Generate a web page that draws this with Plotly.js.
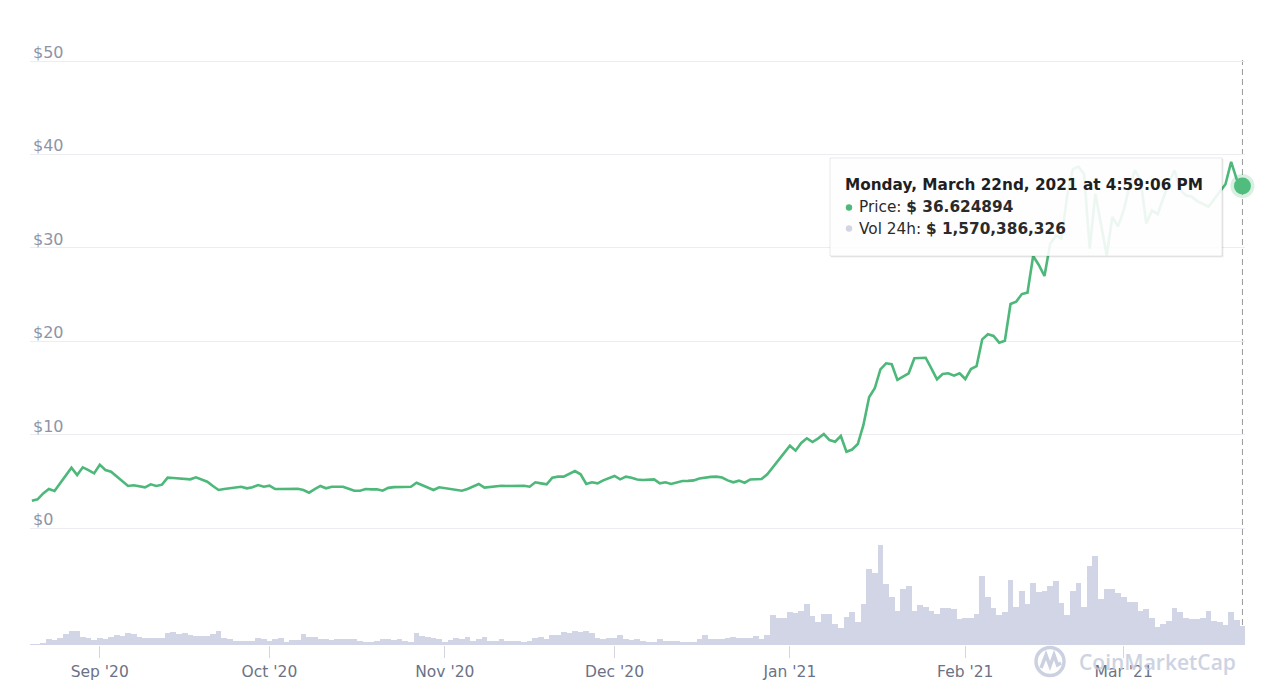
<!DOCTYPE html>
<html>
<head>
<meta charset="utf-8">
<script src="https://cdn.plot.ly/plotly-3.0.1.min.js"></script>
<style>html,body{margin:0;padding:0;background:#fff}#chart{width:1280px;height:694px}</style>
</head>
<body>
<div id="chart"></div>
<script>
// ---- data ----
const startDate = '2020-08-20';
const price = [
  2.92, 3.07, 3.71, 4.17, 3.96, 4.8, 5.6, 6.46, 5.67, 6.5,
  6.2, 5.85, 6.78, 6.21, 6.03, 5.5, 5.0, 4.5, 4.57, 4.5,
  4.36, 4.68, 4.5, 4.64, 5.39, 5.35, 5.3, 5.28, 5.21, 5.43,
  5.2, 4.96, 4.5, 4.07, 4.17, 4.25, 4.33, 4.42, 4.25, 4.36,
  4.6, 4.42, 4.53, 4.17, 4.17, 4.17, 4.25, 4.2, 4.07, 3.78,
  4.15, 4.5, 4.25, 4.42, 4.42, 4.42, 4.2, 3.99, 3.99, 4.17,
  4.14, 4.14, 3.99, 4.3, 4.38, 4.42, 4.42, 4.42, 4.85, 4.6,
  4.3, 4.07, 4.36, 4.27, 4.17, 4.08, 3.99, 4.17, 4.45, 4.71,
  4.32, 4.4, 4.47, 4.53, 4.5, 4.5, 4.52, 4.53, 4.42, 4.89,
  4.78, 4.68, 5.39, 5.5, 5.5, 5.8, 6.1, 5.75, 4.71, 4.89,
  4.78, 5.1, 5.35, 5.57, 5.21, 5.5, 5.39, 5.2, 5.14, 5.14,
  5.2, 4.78, 4.89, 4.71, 4.85, 5.03, 5.05, 5.1, 5.3, 5.42,
  5.47, 5.5, 5.4, 5.1, 4.89, 5.07, 4.85, 5.2, 5.25, 5.25,
  5.75, 6.5, 7.3, 8.05, 8.81, 8.28, 9.1, 9.6, 9.21, 9.6,
  10.06, 9.42, 9.24, 9.85, 8.17, 8.4, 8.99, 11.03, 14.0, 14.96,
  16.99, 17.63, 17.53, 15.85, 16.2, 16.56, 18.17, 18.2, 18.23, 17.1,
  15.92, 16.49, 16.56, 16.31, 16.56, 15.95, 17.02, 17.34, 20.2, 20.74,
  20.56, 19.84, 20.05, 23.98, 24.23, 25.05, 25.2, 29.12, 28.16, 26.98,
  30.4, 31.3, 31.0, 35.5, 38.4, 38.7, 37.9, 29.9, 35.8, 32.5,
  29.2, 33.3, 32.3, 34.0, 36.5, 38.3, 37.2, 32.6, 34.0, 33.6,
  35.2, 37.0, 38.3, 36.2, 35.6, 35.5, 35.0, 34.7, 34.4, 35.2,
  36.0, 36.8, 39.2, 37.3, 36.624894
];
// 24h volume, billions of USD
const volumeBn = [
  0.08, 0.10, 0.19, 0.47, 0.41, 0.55, 0.91, 1.19, 1.19, 0.64,
  0.55, 0.41, 0.61, 0.50, 0.64, 0.83, 0.77, 0.97, 0.89, 0.69,
  0.55, 0.60, 0.62, 0.61, 1.02, 1.08, 0.91, 0.97, 0.83, 0.77,
  0.77, 0.78, 0.91, 1.19, 0.61, 0.50, 0.36, 0.36, 0.36, 0.36,
  0.61, 0.47, 0.36, 0.50, 0.61, 0.28, 0.41, 0.41, 0.89, 0.64,
  0.64, 0.50, 0.50, 0.41, 0.50, 0.50, 0.50, 0.50, 0.36, 0.22,
  0.22, 0.36, 0.50, 0.50, 0.41, 0.50, 0.33, 0.28, 1.02, 0.77,
  0.64, 0.62, 0.47, 0.28, 0.41, 0.61, 0.50, 0.69, 0.36, 0.47,
  0.69, 0.36, 0.36, 0.47, 0.36, 0.36, 0.36, 0.22, 0.36, 0.61,
  0.69, 0.47, 0.83, 0.83, 1.05, 0.97, 1.19, 1.10, 1.16, 0.97,
  0.61, 0.50, 0.61, 0.61, 0.83, 0.50, 0.41, 0.50, 0.36, 0.22,
  0.22, 0.47, 0.36, 0.36, 0.36, 0.22, 0.22, 0.22, 0.47, 0.83,
  0.50, 0.50, 0.50, 0.61, 0.69, 0.61, 0.61, 0.61, 0.75, 0.50,
  0.83, 2.49, 2.21, 2.21, 2.71, 2.63, 2.82, 3.40, 2.41, 1.94,
  2.57, 2.57, 1.74, 1.44, 2.35, 2.71, 1.94, 3.40, 6.30, 6.00,
  8.30, 5.06, 3.96, 2.82, 4.62, 4.92, 2.85, 3.29, 3.18, 2.85,
  2.57, 3.04, 3.04, 2.96, 2.13, 2.24, 2.24, 2.57, 5.75, 4.01,
  3.07, 2.49, 2.74, 5.40, 3.18, 4.48, 3.38, 5.17, 4.37, 4.51,
  4.92, 5.31, 3.46, 2.49, 4.48, 5.17, 3.18, 6.58, 7.41, 3.79,
  4.62, 4.62, 4.29, 4.01, 3.54, 3.54, 2.85, 2.96, 2.21, 1.52,
  1.74, 1.99, 3.04, 2.77, 2.27, 2.13, 2.13, 2.21, 2.85, 2.02,
  1.94, 1.66, 2.71, 2.08, 1.570386326
];
const priceTicks = [0, 10, 20, 30, 40, 50];
const priceTickLabels = ['$0', '$10', '$20', '$30', '$40', '$50'];
const hoverDateText = 'Monday, March 22nd, 2021 at 4:59:06 PM';
const watermarkText = 'CoinMarketCap';

// ---- derived ----
const t0 = new Date(startDate + 'T00:00:00Z').getTime();
const dates = price.map((_, i) => new Date(t0 + i * 864e5).toISOString().slice(0, 10));
const n = price.length;
const lastDate = dates[n - 1];
const lastPrice = price[n - 1];
const lastVol = Math.round(volumeBn[n - 1] * 1e9).toLocaleString('en-US');

// pixel helpers for overlay decorations
const L = 30, T = 40, W = 1215, H = 605;
const px = v => (v - L) / W;
const py = v => (T + H - v) / H;

const GREEN = '#4db87a';
const FONT = 'DejaVu Sans, Verdana, sans-serif';

const traces = [
  {
    type: 'bar', x: dates, y: volumeBn, yaxis: 'y',
    width: 864e5 * 1.02,
    marker: {color: '#d1d5e5', line: {width: 0}},
    hoverinfo: 'skip'
  },
  {
    type: 'scatter', mode: 'lines', x: dates, y: price, yaxis: 'y2',
    line: {color: GREEN, width: 2.6},
    hoverinfo: 'skip'
  },
  {
    type: 'scatter', mode: 'markers', x: [lastDate], y: [lastPrice], yaxis: 'y2',
    marker: {size: 24, color: 'rgba(77,184,122,0.22)'}, cliponaxis: false, hoverinfo: 'skip'
  },
  {
    type: 'scatter', mode: 'markers', x: [lastDate], y: [lastPrice], yaxis: 'y2',
    marker: {size: 17, color: '#50bd7e'}, cliponaxis: false, hoverinfo: 'skip'
  }
];

const annotations = priceTicks.map((v, i) => ({
  xref: 'paper', yref: 'y2', x: 0, y: v, xanchor: 'left', yanchor: 'bottom',
  xshift: 1, yshift: -3, showarrow: false, text: priceTickLabels[i],
  font: {family: FONT, size: 16, color: '#8e94a6'}
}));

annotations.push(
  {xref: 'paper', yref: 'paper', x: px(843), y: py(185), xanchor: 'left', yanchor: 'middle',
   showarrow: false, text: '<b>' + hoverDateText + '</b>',
   font: {family: FONT, size: 15.3, color: '#1f1f1f'}},
  {xref: 'paper', yref: 'paper', x: px(857), y: py(207.5), xanchor: 'left', yanchor: 'middle',
   showarrow: false, text: 'Price: <b>$ ' + lastPrice + '</b>',
   font: {family: FONT, size: 15.3, color: '#2a2a2a'}},
  {xref: 'paper', yref: 'paper', x: px(857), y: py(228.5), xanchor: 'left', yanchor: 'middle',
   showarrow: false, text: 'Vol 24h: <b>$ ' + lastVol + '</b>',
   font: {family: FONT, size: 15.3, color: '#2a2a2a'}},
  {xref: 'paper', yref: 'paper', x: px(1077), y: py(662), xanchor: 'left', yanchor: 'middle',
   showarrow: false, text: watermarkText, opacity: 0.8,
   font: {family: 'Open Sans, sans-serif', size: 21, weight: 600, color: '#c3c9dc'}}
);

const P = (x, y) => px(x) + ' ' + py(y);
const shapes = [
  {type: 'line', xref: 'x', yref: 'paper', x0: lastDate, x1: lastDate, y0: 0, y1: py(60),
   layer: 'below', line: {color: '#999999', width: 1, dash: '6px,4px'}},
  // tooltip shadow + box
  {type: 'rect', xref: 'paper', yref: 'paper', x0: px(831), x1: px(1223.5), y0: py(257.5), y1: py(159),
   line: {width: 0}, fillcolor: 'rgba(0,0,0,0.07)'},
  {type: 'rect', xref: 'paper', yref: 'paper', x0: px(830), x1: px(1222), y0: py(256), y1: py(158),
   line: {width: 1, color: 'rgba(0,0,0,0.09)'}, fillcolor: 'rgba(255,255,255,0.9)'},
  {type: 'circle', xref: 'paper', yref: 'paper', x0: px(845.8), x1: px(852.2), y0: py(210.7), y1: py(204.3),
   line: {width: 0}, fillcolor: GREEN},
  {type: 'circle', xref: 'paper', yref: 'paper', x0: px(845.8), x1: px(852.2), y0: py(231.7), y1: py(225.3),
   line: {width: 0}, fillcolor: '#d3d6e2'},
  // watermark logo
  {type: 'circle', xref: 'paper', yref: 'paper', x0: px(1036), x1: px(1064), y0: py(675.5), y1: py(647.5),
   line: {width: 3.5, color: 'rgba(195,201,220,0.85)'}, fillcolor: 'rgba(0,0,0,0)'},
  {type: 'path', xref: 'paper', yref: 'paper',
   path: 'M ' + P(1041, 668) + ' L ' + P(1046, 655) + ' L ' + P(1050, 666) + ' L ' + P(1054, 655) +
         ' L ' + P(1057.5, 665) + ' L ' + P(1061, 663),
   line: {width: 3.5, color: 'rgba(195,201,220,0.85)'}}
];

const layout = {
  width: 1280, height: 694,
  margin: {l: L, r: 1280 - L - W, t: T, b: 694 - T - H},
  paper_bgcolor: '#ffffff', plot_bgcolor: '#ffffff',
  font: {family: FONT},
  showlegend: false, hovermode: false, bargap: 0,
  xaxis: {
    type: 'date', range: ['2020-08-19 16:00', '2021-03-22 10:48'],
    tick0: '2020-09-01', dtick: 'M1', tickformat: "%b '%y",
    ticks: 'outside', ticklen: 12, tickwidth: 1, tickcolor: '#d3d6e0',
    showgrid: false, zeroline: false, showline: false, fixedrange: true,
    tickfont: {family: FONT, size: 15.5, color: '#6c7286'}
  },
  yaxis: {
    range: [0, 605 * 0.083], visible: false, fixedrange: true
  },
  yaxis2: {
    overlaying: 'y', side: 'left',
    range: [-(645 - 528) / 9.34, (528 - 40) / 9.34],
    tickvals: priceTicks, showticklabels: false, ticks: '',
    showgrid: true, gridcolor: '#ededf1', gridwidth: 1,
    zeroline: false, showline: false, fixedrange: true
  },
  annotations: annotations,
  shapes: shapes
};

Plotly.newPlot('chart', traces, layout, {displayModeBar: false, staticPlot: true});
</script>
</body>
</html>
